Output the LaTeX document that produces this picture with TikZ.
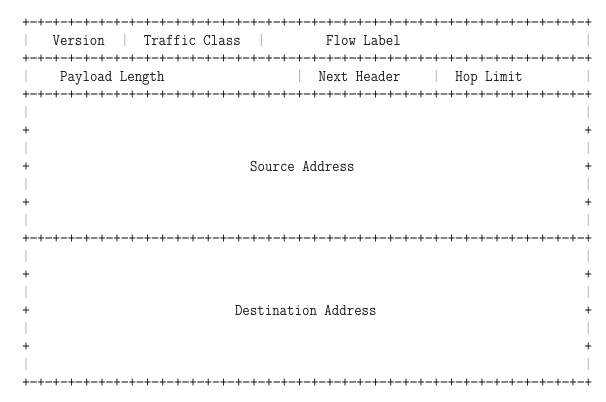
\documentclass[tikz,border=0pt]{standalone}
\usepackage{fontspec}
\usepackage{graphicx}
\newcommand\mt[1]{\scalebox{0.8827}[1]{\ttfamily\fontsize{16.4}{18}\selectfont #1}}
\newcommand\cellch[1]{\makebox[7.6pt]{\mt{#1}}}
\newcommand\pd{\cellch{+}\makebox[7.6pt]{\scalebox{1.2}[1]{\mt{-}}}}
\newcommand\pdd{\pd\pd\pd\pd}
\newcommand\bord{\pdd\pdd\pdd\pdd\pdd\pdd\pdd\pdd\pdd\pd\cellch{+}}
\tikzset{
  tt/.style={inner sep=0pt, outer sep=0pt, anchor=base west, text=black!90},
  barch/.style={inner sep=0pt, outer sep=0pt, anchor=base, text=black!30},
  plch/.style={inner sep=0pt, outer sep=0pt, anchor=base, text=black!90},
}
% left edge of column #1, baseline of row #2
\newcommand\at[2]{({22.2+7.6*(#1)},{27.0+18.03*(#2)})}
% centre of column #1, baseline of row #2
\newcommand\ct[2]{({26+7.6*(#1)},{27.0+18.03*(#2)})}
\begin{document}
\begin{tikzpicture}[x=1pt,y=-1pt]
\useasboundingbox (0,0) rectangle (606,402);
% borders
\foreach \r in {0,2,4,12,20}{
  \node[tt] (border\r) at \at{0}{\r} {\bord};
}
% vertical bars
\foreach \r in {1,3,5,7,9,11,13,15,17,19}{
  \node[barch] (barl\r) at \ct{0}{\r} {\mt{|}};
  \node[barch] (barr\r) at \ct{74}{\r} {\mt{|}};
}
% side pluses
\foreach \r in {6,8,10,14,16,18}{
  \node[plch] (plusl\r) at \ct{0}{\r} {\mt{+}};
  \node[plch] (plusr\r) at \ct{74}{\r} {\mt{+}};
}
% row 1
\node[barch] (bar1a) at \ct{13}{1} {\mt{|}};
\node[barch] (bar1b) at \ct{31}{1} {\mt{|}};
\node[tt] (version) at \at{4}{1} {\mt{Version}};
\node[tt] (tclass) at \at{16}{1} {\mt{Traffic Class}};
\node[tt] (flow) at \at{40}{1} {\mt{Flow Label}};
% row 3
\node[barch] (bar3a) at \ct{36}{3} {\mt{|}};
\node[barch] (bar3b) at \ct{54}{3} {\mt{|}};
\node[tt] (plen) at \at{5}{3} {\mt{Payload Length}};
\node[tt] (nhdr) at \at{39}{3} {\mt{Next Header}};
\node[tt] (hop) at \at{57}{3} {\mt{Hop Limit}};
% addresses
\node[tt] (src) at \at{30}{8} {\mt{Source Address}};
\node[tt] (dst) at \at{28}{16} {\mt{Destination Address}};
\end{tikzpicture}
\end{document}
